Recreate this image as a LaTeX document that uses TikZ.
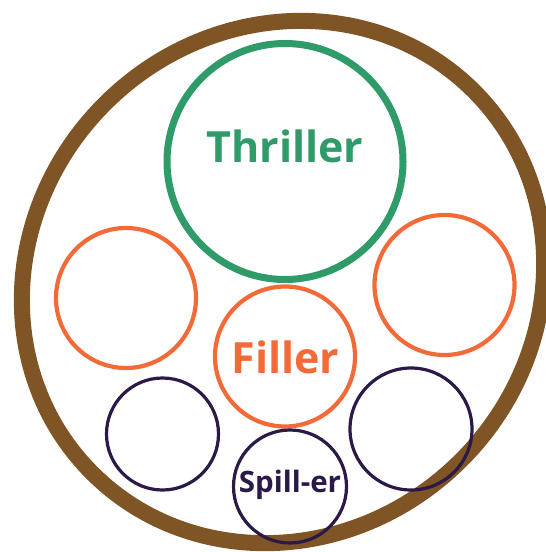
\documentclass[tikz,border=0pt]{standalone}
\usepackage{fontspec}
\setmainfont{Open Sans}
\usetikzlibrary{shapes.geometric}
\definecolor{ringbrown}{RGB}{127,85,38}
\definecolor{thrgreen}{RGB}{46,155,104}
\definecolor{filorange}{RGB}{242,106,56}
\definecolor{spilldark}{RGB}{43,25,72}
\begin{document}
\begin{tikzpicture}[x=1pt,y=-1pt,
  ring/.style={circle,draw,inner sep=0pt,minimum size=#1},
  thr/.style={ring=#1,draw=thrgreen,line width=7pt},
  fil/.style={ring=#1,draw=filorange,line width=4.2pt},
  spl/.style={ring=#1,draw=spilldark,line width=3.2pt},
  lbl/.style={anchor=base,inner sep=0pt,font=\bfseries}]
\useasboundingbox[fill=white] (0,0) rectangle (546,552);
\node[ellipse,draw=ringbrown,line width=16pt,inner sep=0pt,
  minimum width=540pt,minimum height=504pt,rotate=45] (pot) at (283,282) {};
\node[thr=236pt] (thriller) at (285,161.5) {};
\node[fil=140pt] (fillL) at (126,298) {};
\node[fil=140pt] (fillR) at (444.5,285) {};
\node[fil=140pt] (filler) at (285,356.5) {};
\node[spl=112pt] (spillL) at (162.5,434) {};
\node[spl=122pt] (spillR) at (411,429) {};
\node[spl=113pt] (spiller) at (290,486.5) {};
\node[lbl,text=thrgreen,font=\bfseries\fontsize{43}{48}\selectfont] (tthr) at (285,162) {Thriller};
\node[lbl,text=filorange,font=\bfseries\fontsize{43}{48}\selectfont] (tfil) at (285.5,373.5) {Filler};
\node[lbl,text=spilldark,font=\bfseries\fontsize{29.5}{34}\selectfont] (tspl) at (290,492.5) {Spill-er};
\end{tikzpicture}
\end{document}
